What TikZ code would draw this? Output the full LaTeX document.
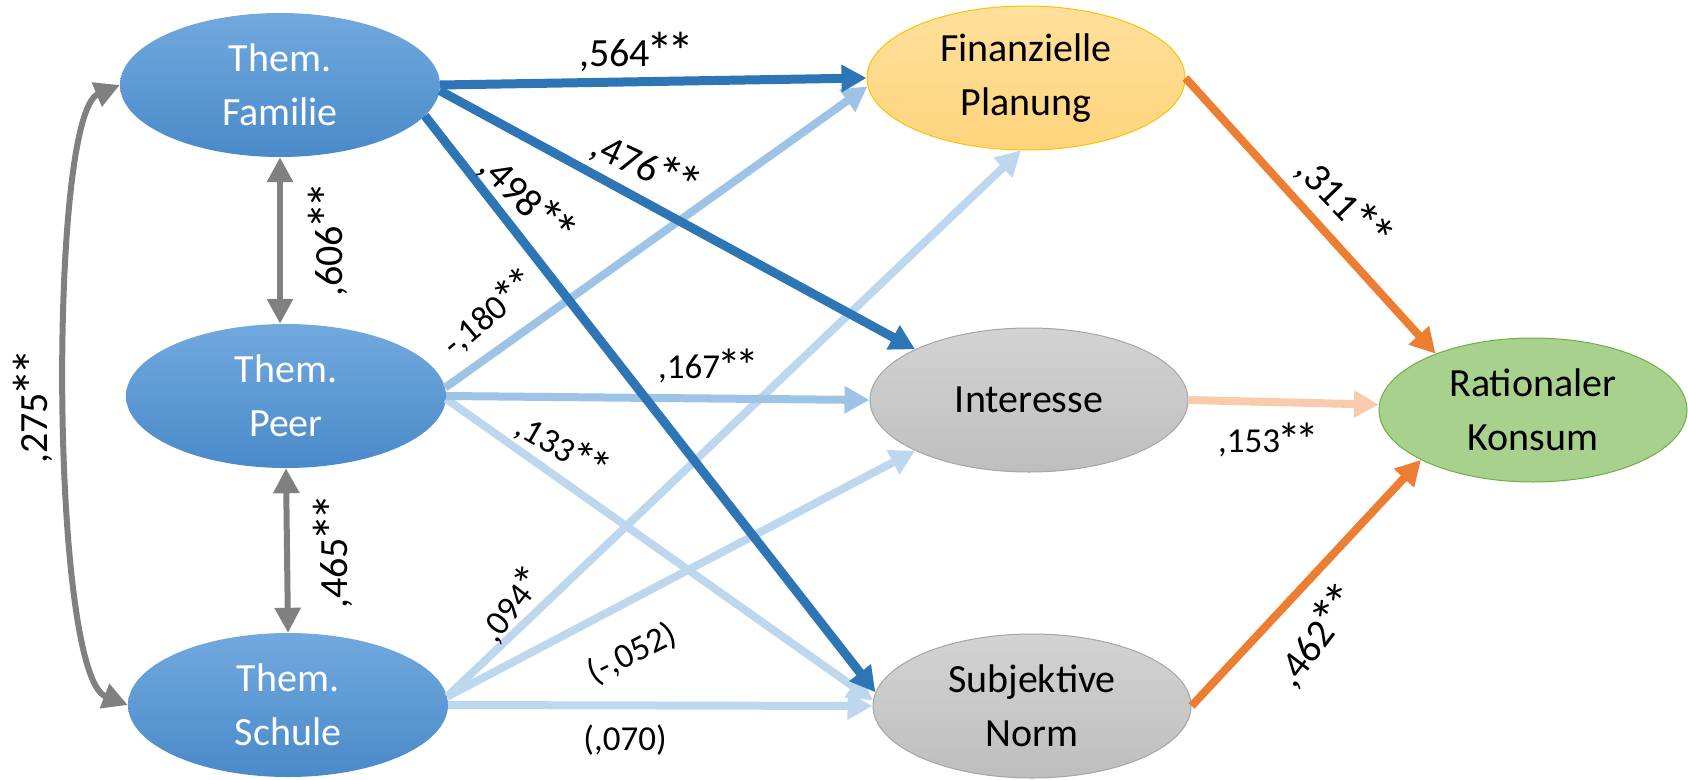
\documentclass[tikz,border=0pt]{standalone}
\usepackage{fontspec}
\usepackage{graphicx}
\setmainfont{Carlito}
\usetikzlibrary{arrows.meta,shapes.geometric}
\definecolor{bluetop}{HTML}{71A9DE}
\definecolor{bluebot}{HTML}{4A8AC9}
\definecolor{fintop}{HTML}{FFE09C}
\definecolor{finbot}{HTML}{FFD47C}
\definecolor{finborder}{HTML}{FFC000}
\definecolor{graytop}{HTML}{D3D3D3}
\definecolor{graybot}{HTML}{BEBEBE}
\definecolor{grayborder}{HTML}{A5A5A5}
\definecolor{greenfill}{HTML}{A9D18E}
\definecolor{greenborder}{HTML}{70AD47}
\definecolor{darkblue}{HTML}{2E75B6}
\definecolor{midblue}{HTML}{9DC3E6}
\definecolor{lightblue}{HTML}{BDD7EE}
\definecolor{orangeline}{HTML}{ED7D31}
\definecolor{peachline}{HTML}{F8CBAD}
\definecolor{grayline}{HTML}{808080}
\newcommand\lblst{\kern-0.08em\raisebox{-0.1em}{\scalebox{1.35}{*}}\kern-0.08em}
\begin{document}
\begin{tikzpicture}[x=1pt,y=-1pt,
  basenode/.style={ellipse, inner sep=0pt, align=center,
    font=\fontsize{40}{54}\selectfont},
  bluenode/.style={basenode, minimum width=320pt, minimum height=144pt,
    top color=bluetop, bottom color=bluebot, text=white},
  finnode/.style={basenode, minimum width=318pt, minimum height=144pt,
    top color=fintop, bottom color=finbot, draw=finborder, line width=1pt},
  graynode/.style={basenode, minimum width=318pt, minimum height=144pt,
    top color=graytop, bottom color=graybot, draw=grayborder, line width=1pt},
  greennode/.style={basenode, minimum width=308pt, minimum height=144pt,
    fill=greenfill, draw=greenborder, line width=1pt},
  arr/.style={-{Triangle[length=25pt,width=26pt]}, line width=8pt},
  darkarrow/.style={arr, darkblue, line width=9pt},
  midarrow/.style={arr, midblue},
  lightarrow/.style={arr, lightblue},
  orangearrow/.style={arr, orangeline},
  peacharrow/.style={arr, peachline},
  grayarrow/.style={{Triangle[length=25pt,width=25pt]}-{Triangle[length=25pt,width=25pt]},
    grayline, line width=6pt},
  biglabel/.style={inner sep=0pt, font=\fontsize{40}{44}\selectfont},
  smalllabel/.style={inner sep=0pt, font=\fontsize{35}{40}\selectfont}
]
\useasboundingbox (0,0) rectangle (1688,779);

% nodes
\node[bluenode] (fam) at (280,85) {Them.\\Familie};
\node[bluenode] (peer) at (286,396) {Them.\\Peer};
\node[bluenode] (sch) at (288,705) {Them.\\Schule};
\node[finnode] (fin) at (1026,78) {Finanzielle\\Planung};
\node[graynode] (int) at (1029,400) {Interesse};
\node[graynode] (sub) at (1032,706) {Subjektive\\Norm};
\node[greennode] (rat) at (1533,410) {Rationaler\\Konsum};

% light paths
\draw[lightarrow] (sch.3) -- (fin.266);
\draw[lightarrow] (sch.3) -- (int.204);
\draw[lightarrow] (sch.east) -- (sub.west);
\draw[lightarrow] (peer.-1) -- (sub.178);
\draw[midarrow] (peer.3) -- (fin.183);
\draw[midarrow] (peer.east) -- (int.west);

% dark paths
\draw[darkarrow] (fam.east) -- (fin.west);
\draw[darkarrow] (fam.-2) -- (int.156);
\draw[darkarrow] (fam.-12) -- (sub.175);

% outcome paths
\draw[orangearrow] (fin.east) -- (rat.150);
\draw[peacharrow] (int.east) -- (rat.178);
\draw[orangearrow] (sub.east) -- (rat.204);

% correlations
\draw[grayarrow] (fam.south) -- (fam.south |- peer.north);
\draw[grayarrow] (peer.south) -- (sch.north);
\draw[grayarrow] (fam.west) .. controls (48,115) and (50,675) .. (sch.west);

% labels
\node[biglabel] (l564) at (635,52) {,564\lblst\lblst};
\node[biglabel, rotate=-25] (l476) at (645,165) {,476\lblst\lblst};
\node[biglabel, rotate=-45] (l498) at (527,199) {,498\lblst\lblst};
\node[biglabel, rotate=90] (l606) at (328,241) {,606\lblst\lblst};
\node[biglabel, rotate=90] (l465) at (333,553) {,465\lblst\lblst};
\node[biglabel, rotate=90] (l275) at (33,408) {,275\lblst\lblst};
\node[biglabel, rotate=-46] (l311) at (1344,202) {,311\lblst\lblst};
\node[biglabel, rotate=53] (l462) at (1316,636) {,462\lblst\lblst};
\node[smalllabel, rotate=40] (l180) at (488,313) {-,180\lblst\lblst};
\node[smalllabel] (l167) at (707,366) {,167\lblst\lblst};
\node[smalllabel, rotate=-30] (l133) at (562,447) {,133\lblst\lblst};
\node[smalllabel, rotate=52] (l094) at (511,605) {,094\lblst};
\node[smalllabel, rotate=27] (l052) at (632,654) {(-,052)};
\node[smalllabel] (l070) at (625,740) {(,070)};
\node[smalllabel] (l153) at (1267,440) {,153\lblst\lblst};
\end{tikzpicture}
\end{document}
